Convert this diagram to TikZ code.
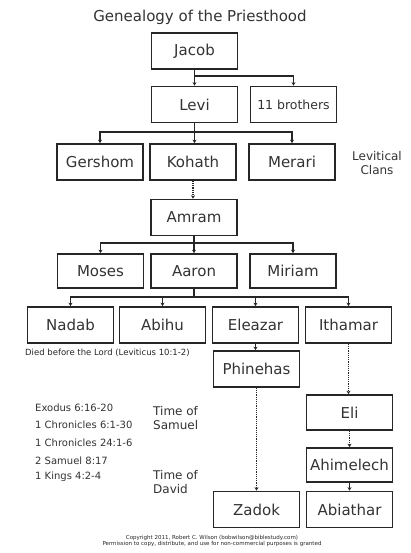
\documentclass[tikz,border=0pt]{standalone}
\usepackage{fontspec}
\setmainfont{DejaVu Sans}
\usetikzlibrary{arrows.meta}
\begin{document}
\begin{tikzpicture}[x=1pt,y=-1pt,
  person/.style={draw=black!85,line width=1.7pt,fill=white,minimum width=86pt,minimum height=36pt,inner sep=0pt,font=\fontsize{15}{17}\selectfont,text=black!80},
  link/.style={line width=1.5pt,draw=black!85},
  arr/.style={link,-{Stealth[length=3.5pt,width=4pt]}},
  darr/.style={arr,dash pattern=on 1.2pt off 1pt},
  note/.style={font=\fontsize{12}{14}\selectfont,text=black!80,align=left,anchor=west,inner sep=0pt},
  small/.style={font=\fontsize{10}{12}\selectfont,text=black!80,anchor=west,inner sep=0pt}]
\useasboundingbox[fill=white] (0,0) rectangle (411,553);
\node[font=\fontsize{15}{17}\selectfont,text=black!80] (title) at (200,17) {Genealogy of the Priesthood};
\node[person] (jacob) at (194.5,51) {Jacob};
\node[person] (levi) at (194.5,104.5) {Levi};
\node[person,font=\fontsize{12.5}{14}\selectfont] (brothers) at (293.5,104.5) {11 brothers};
\node[person] (gershom) at (100,162) {Gershom};
\node[person] (kohath) at (193,162) {Kohath};
\node[person] (merari) at (292,162) {Merari};
\node[person] (amram) at (194,217.5) {Amram};
\node[person,minimum height=34pt] (moses) at (100.5,271) {Moses};
\node[person,minimum height=34pt] (aaron) at (194,271) {Aaron};
\node[person,minimum height=34pt] (miriam) at (293,271) {Miriam};
\node[person] (nadab) at (70.5,325) {Nadab};
\node[person] (abihu) at (162.5,325) {Abihu};
\node[person] (eleazar) at (255.5,325) {Eleazar};
\node[person] (ithamar) at (348.5,325) {Ithamar};
\node[person] (phinehas) at (256.5,369) {Phinehas};
\node[person,minimum height=35pt] (eli) at (349.5,412.5) {Eli};
\node[person,minimum height=34pt] (ahimelech) at (349.5,465) {Ahimelech};
\node[person] (zadok) at (256.5,509.5) {Zadok};
\node[person] (abiathar) at (349.5,509.5) {Abiathar};
% labels
\node[note,align=center,anchor=center] (clans) at (377,163) {Levitical\\Clans};
\node[font=\fontsize{8.5}{10}\selectfont,text=black!85,anchor=west,inner sep=0pt] (died) at (25,353) {Died before the Lord (Leviticus 10:1-2)};
\node[note] (samuel) at (153,418) {Time of\\Samuel};
\node[note] (david) at (153,482) {Time of\\David};
\node[small] (r1) at (35,408) {Exodus 6:16-20};
\node[small] (r2) at (35,425) {1 Chronicles 6:1-30};
\node[small] (r3) at (35,443) {1 Chronicles 24:1-6};
\node[small] (r4) at (35,461) {2 Samuel 8:17};
\node[small] (r5) at (35,477) {1 Kings 4:2-4};
\node[font=\fontsize{5.5}{6.5}\selectfont,text=black!85,align=center] (copy) at (212,541) {Copyright 2011, Robert C. Wilson (bobwilson@biblestudy.com)\\Permission to copy, distribute, and use for non-commercial purposes is granted};
% connectors
\coordinate (j) at (jacob.south |- 0,76);
\draw[link] (jacob.south) -- (j);
\draw[arr] (j) -- (levi.north);
\draw[arr] (j) -| (brothers.north);
\coordinate (l) at (levi.south |- 0,132);
\draw[link] (levi.south) -- (l);
\draw[arr] (l) -| (gershom.north);
\draw[arr] (l) -- (kohath.north -| l);
\draw[arr] (l) -| (merari.north);
\draw[darr] (kohath.south) -- (amram.north -| kohath.south);
\coordinate (a) at (amram.south |- 0,243);
\draw[link] (amram.south) -- (a);
\draw[arr] (a) -| (moses.north);
\draw[arr] (a) -- (aaron.north);
\draw[arr] (a) -| (miriam.north);
\coordinate (b) at (aaron.south |- 0,297);
\draw[link] (aaron.south) -- (b);
\draw[arr] (b) -| (nadab.north);
\draw[arr] (b) -| (abihu.north);
\draw[arr] (b) -| (eleazar.north);
\draw[arr] (b) -| (ithamar.north);
\draw[arr] (eleazar.south) -- (phinehas.north -| eleazar.south);
\draw[darr] (ithamar.south) -- (eli.north -| ithamar.south);
\draw[darr] (phinehas.south) -- (zadok.north -| phinehas.south);
\draw[darr] (eli.south) -- (ahimelech.north);
\draw[arr] (ahimelech.south) -- (abiathar.north);
\end{tikzpicture}
\end{document}
